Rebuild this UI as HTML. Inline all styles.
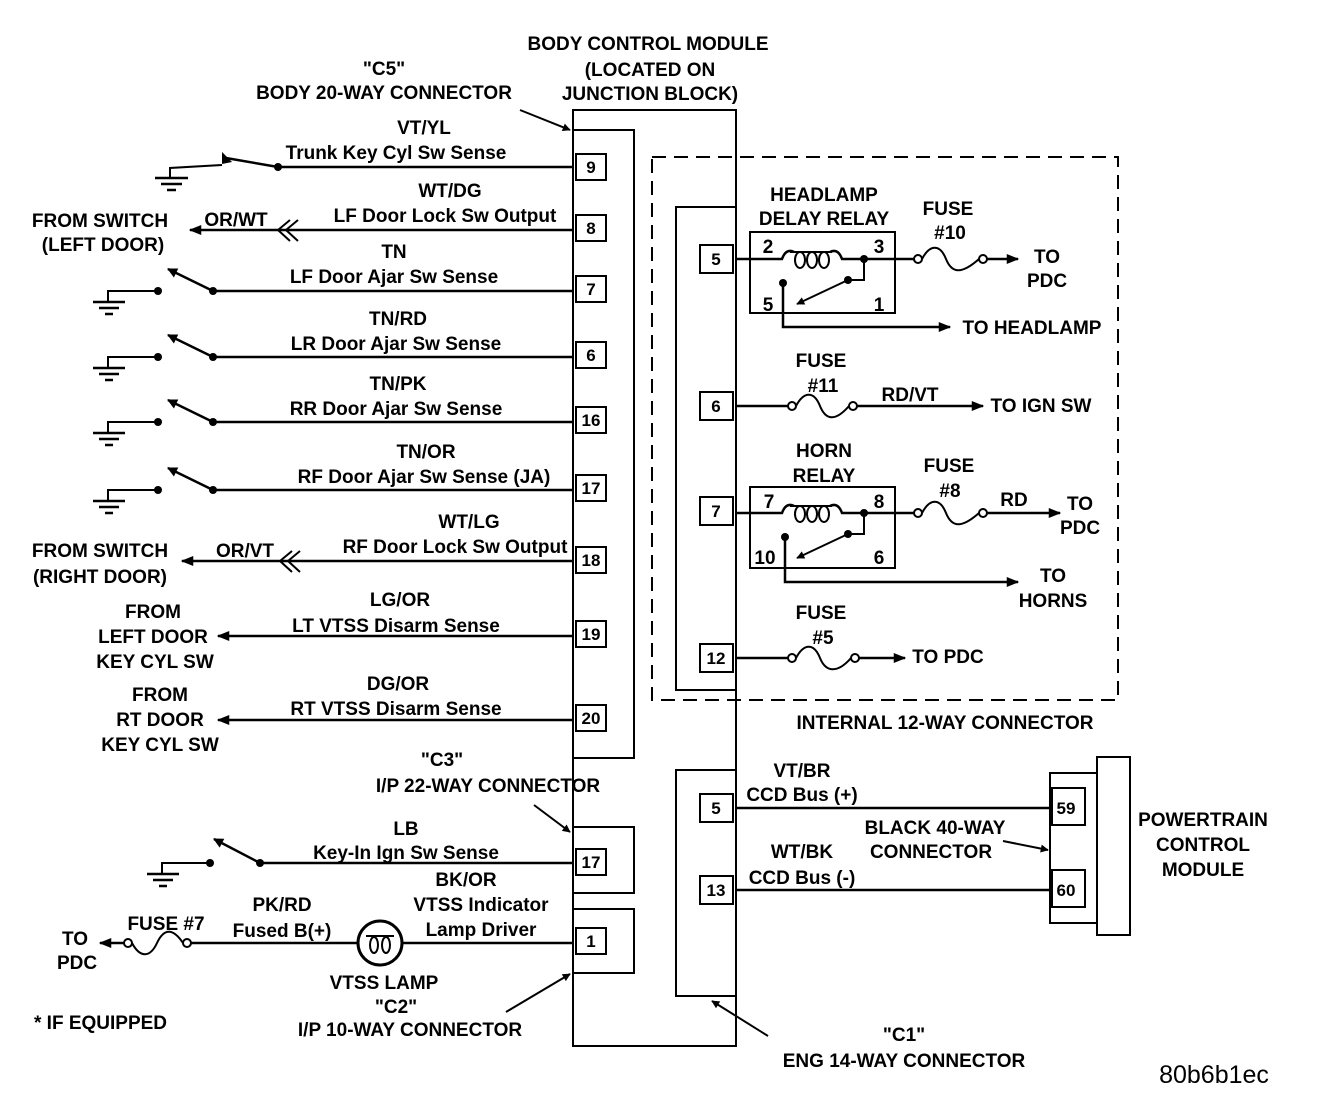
<!DOCTYPE html>
<html><head><meta charset="utf-8"><style>
html,body{margin:0;padding:0;background:#fff}
svg{display:block}
text{font-family:"Liberation Sans",sans-serif;font-size:19px;font-weight:bold;fill:#000}
.w{stroke:#000;stroke-width:2.5;fill:none}
.t{stroke:#000;stroke-width:2;fill:none}
.b{stroke:#000;stroke-width:2;fill:#fff}
</style></head><body>
<svg width="1328" height="1108" viewBox="0 0 1328 1108" xmlns="http://www.w3.org/2000/svg">
<defs>
<marker id="a" viewBox="0 0 10 10" refX="9" refY="5" markerWidth="7" markerHeight="5" orient="auto-start-reverse" markerUnits="strokeWidth"><path d="M0,1 L10,5 L0,9 z" fill="#000"/></marker>
<marker id="s" viewBox="0 0 10 10" refX="9" refY="5" markerWidth="5" markerHeight="4" orient="auto" markerUnits="strokeWidth"><path d="M0,0 L10,5 L0,10 z" fill="#000"/></marker>
</defs>

<rect x="573" y="110" width="163" height="936" class="t"/>
<rect x="573" y="130" width="61" height="628" class="t"/>
<rect x="573" y="827" width="61" height="66" class="t"/>
<rect x="573" y="909" width="61" height="64" class="t"/>

<g class="b">
<rect x="576" y="154" width="30" height="26"/>
<rect x="576" y="215" width="30" height="26"/>
<rect x="576" y="276" width="30" height="26"/>
<rect x="576" y="342" width="30" height="26"/>
<rect x="576" y="407" width="30" height="26"/>
<rect x="576" y="475" width="30" height="26"/>
<rect x="576" y="547" width="30" height="26"/>
<rect x="576" y="621" width="30" height="26"/>
<rect x="576" y="705" width="30" height="26"/>
<rect x="576" y="849" width="30" height="26"/>
<rect x="576" y="928" width="30" height="26"/>
</g>
<g text-anchor="middle">
<text x="591" y="173" style="font-size:17px">9</text><text x="591" y="234" style="font-size:17px">8</text><text x="591" y="295" style="font-size:17px">7</text>
<text x="591" y="361" style="font-size:17px">6</text><text x="591" y="426" style="font-size:17px">16</text><text x="591" y="494" style="font-size:17px">17</text>
<text x="591" y="566" style="font-size:17px">18</text><text x="591" y="640" style="font-size:17px">19</text><text x="591" y="724" style="font-size:17px">20</text>
<text x="591" y="868" style="font-size:17px">17</text><text x="591" y="947" style="font-size:17px">1</text>
</g>

<g text-anchor="middle">
<text x="648" y="50">BODY CONTROL MODULE</text>
<text x="650" y="76">(LOCATED ON</text>
<text x="650" y="100">JUNCTION BLOCK)</text>
<text x="384" y="75">"C5"</text>
<text x="384" y="99">BODY 20-WAY CONNECTOR</text>
</g>
<line x1="520" y1="110" x2="570" y2="130" class="t" marker-end="url(#s)"/>

<line x1="278" y1="167" x2="573" y2="167" class="w"/>
<text x="424" y="134" text-anchor="middle">VT/YL</text>
<text x="396" y="159" text-anchor="middle">Trunk Key Cyl Sw Sense</text>
<circle cx="278" cy="167" r="4"/>
<line x1="278" y1="167" x2="226" y2="158" class="w"/>
<path d="M222 152 L232 162 L222 164 z"/>
<polyline points="222,165 170,168 170,178" class="t"/>
<line x1="155" y1="178" x2="188" y2="178" class="w"/><line x1="161" y1="184" x2="182" y2="184" class="w"/><line x1="167" y1="190" x2="176" y2="190" class="w"/>

<line x1="190" y1="230" x2="573" y2="230" class="w" marker-start="url(#a)"/>
<polyline points="298,220 286,230 298,241" class="t"/><polyline points="290,220 278,230 290,241" class="t"/>
<text x="450" y="197" text-anchor="middle">WT/DG</text>
<text x="445" y="222" text-anchor="middle">LF Door Lock Sw Output</text>
<text x="236" y="226" text-anchor="middle">OR/WT</text>
<text x="100" y="227" text-anchor="middle">FROM SWITCH</text>
<text x="103" y="251" text-anchor="middle">(LEFT DOOR)</text>

<line x1="213" y1="291" x2="573" y2="291" class="w"/>
<text x="394" y="258" text-anchor="middle">TN</text>
<text x="394" y="283" text-anchor="middle">LF Door Ajar Sw Sense</text>
<circle cx="213" cy="291" r="4"/><line x1="213" y1="291" x2="168" y2="269" class="w" marker-end="url(#s)"/>
<circle cx="158" cy="291" r="4"/><polyline points="158,291 108,291 108,302" class="t"/>
<line x1="93" y1="302" x2="125" y2="302" class="w"/><line x1="99" y1="308" x2="119" y2="308" class="w"/><line x1="105" y1="314" x2="113" y2="314" class="w"/>

<line x1="213" y1="357" x2="573" y2="357" class="w"/>
<text x="398" y="325" text-anchor="middle">TN/RD</text>
<text x="396" y="350" text-anchor="middle">LR Door Ajar Sw Sense</text>
<circle cx="213" cy="357" r="4"/><line x1="213" y1="357" x2="168" y2="335" class="w" marker-end="url(#s)"/>
<circle cx="158" cy="357" r="4"/><polyline points="158,357 108,357 108,368" class="t"/>
<line x1="93" y1="368" x2="125" y2="368" class="w"/><line x1="99" y1="374" x2="119" y2="374" class="w"/><line x1="105" y1="380" x2="113" y2="380" class="w"/>

<line x1="213" y1="422" x2="573" y2="422" class="w"/>
<text x="398" y="390" text-anchor="middle">TN/PK</text>
<text x="396" y="415" text-anchor="middle">RR Door Ajar Sw Sense</text>
<circle cx="213" cy="422" r="4"/><line x1="213" y1="422" x2="168" y2="400" class="w" marker-end="url(#s)"/>
<circle cx="158" cy="422" r="4"/><polyline points="158,422 108,422 108,433" class="t"/>
<line x1="93" y1="433" x2="125" y2="433" class="w"/><line x1="99" y1="439" x2="119" y2="439" class="w"/><line x1="105" y1="445" x2="113" y2="445" class="w"/>

<line x1="213" y1="490" x2="573" y2="490" class="w"/>
<text x="426" y="458" text-anchor="middle">TN/OR</text>
<text x="424" y="483" text-anchor="middle">RF Door Ajar Sw Sense (JA)</text>
<circle cx="213" cy="490" r="4"/><line x1="213" y1="490" x2="168" y2="468" class="w" marker-end="url(#s)"/>
<circle cx="158" cy="490" r="4"/><polyline points="158,490 108,490 108,501" class="t"/>
<line x1="93" y1="501" x2="125" y2="501" class="w"/><line x1="99" y1="507" x2="119" y2="507" class="w"/><line x1="105" y1="513" x2="113" y2="513" class="w"/>

<line x1="182" y1="561" x2="573" y2="561" class="w" marker-start="url(#a)"/>
<polyline points="300,551 288,561 300,572" class="t"/><polyline points="292,551 280,561 292,572" class="t"/>
<text x="469" y="528" text-anchor="middle">WT/LG</text>
<text x="455" y="553" text-anchor="middle">RF Door Lock Sw Output</text>
<text x="245" y="557" text-anchor="middle">OR/VT</text>
<text x="100" y="557" text-anchor="middle">FROM SWITCH</text>
<text x="100" y="583" text-anchor="middle">(RIGHT DOOR)</text>

<line x1="218" y1="636" x2="573" y2="636" class="w" marker-start="url(#a)"/>
<text x="400" y="606" text-anchor="middle">LG/OR</text>
<text x="396" y="632" text-anchor="middle">LT VTSS Disarm Sense</text>
<text x="153" y="618" text-anchor="middle">FROM</text>
<text x="153" y="643" text-anchor="middle">LEFT DOOR</text>
<text x="155" y="668" text-anchor="middle">KEY CYL SW</text>

<line x1="218" y1="720" x2="573" y2="720" class="w" marker-start="url(#a)"/>
<text x="398" y="690" text-anchor="middle">DG/OR</text>
<text x="396" y="715" text-anchor="middle">RT VTSS Disarm Sense</text>
<text x="160" y="701" text-anchor="middle">FROM</text>
<text x="160" y="726" text-anchor="middle">RT DOOR</text>
<text x="160" y="751" text-anchor="middle">KEY CYL SW</text>

<text x="442" y="766" text-anchor="middle">"C3"</text>
<text x="488" y="792" text-anchor="middle">I/P 22-WAY CONNECTOR</text>
<line x1="534" y1="805" x2="570" y2="832" class="t" marker-end="url(#s)"/>
<line x1="260" y1="863" x2="573" y2="863" class="w"/>
<text x="406" y="835" text-anchor="middle">LB</text>
<text x="406" y="859" text-anchor="middle">Key-In Ign Sw Sense</text>
<circle cx="260" cy="863" r="4"/><line x1="260" y1="863" x2="214" y2="839" class="w" marker-end="url(#s)"/>
<circle cx="210" cy="863" r="4"/>
<polyline points="210,863 162,863 162,874" class="t"/>
<line x1="147" y1="874" x2="179" y2="874" class="w"/><line x1="153" y1="880" x2="173" y2="880" class="w"/><line x1="159" y1="886" x2="167" y2="886" class="w"/>

<line x1="191" y1="943" x2="573" y2="943" class="w"/>
<line x1="124" y1="943" x2="100" y2="943" class="w" marker-end="url(#a)"/>
<circle cx="128" cy="943" r="4" class="b"/><circle cx="187" cy="943" r="4" class="b"/>
<path d="M132 943 C140 958,150 958,157 943 S173 928,183 943" class="t"/>
<circle cx="380" cy="943" r="22" fill="#fff" stroke="#000" stroke-width="3"/>
<ellipse cx="374" cy="945" rx="4" ry="8" class="t"/><ellipse cx="386" cy="945" rx="4" ry="8" class="t"/>
<line x1="366" y1="936" x2="394" y2="936" class="t"/>
<text x="75" y="945" text-anchor="middle">TO</text>
<text x="77" y="969" text-anchor="middle">PDC</text>
<text x="166" y="930" text-anchor="middle">FUSE #7</text>
<text x="282" y="911" text-anchor="middle">PK/RD</text>
<text x="282" y="937" text-anchor="middle">Fused B(+)</text>
<text x="466" y="886" text-anchor="middle">BK/OR</text>
<text x="481" y="911" text-anchor="middle">VTSS Indicator</text>
<text x="481" y="936" text-anchor="middle">Lamp Driver</text>
<text x="384" y="989" text-anchor="middle">VTSS LAMP</text>
<text x="396" y="1013" text-anchor="middle">"C2"</text>
<text x="410" y="1036" text-anchor="middle">I/P 10-WAY CONNECTOR</text>
<line x1="506" y1="1012" x2="570" y2="974" class="t" marker-end="url(#s)"/>
<text x="34" y="1029">* IF EQUIPPED</text>

<rect x="652" y="157" width="466" height="543" fill="none" stroke="#000" stroke-width="2" stroke-dasharray="14,8"/>
<rect x="676" y="207" width="60" height="483" class="t"/>
<g class="b">
<rect x="700" y="245" width="33" height="28"/>
<rect x="700" y="392" width="33" height="28"/>
<rect x="700" y="497" width="33" height="28"/>
<rect x="700" y="644" width="33" height="28"/>
</g>
<g text-anchor="middle">
<text x="716" y="265" style="font-size:17px">5</text><text x="716" y="412" style="font-size:17px">6</text><text x="716" y="517" style="font-size:17px">7</text><text x="716" y="664" style="font-size:17px">12</text>
</g>
<text x="945" y="729" text-anchor="middle">INTERNAL 12-WAY CONNECTOR</text>

<rect x="750" y="232" width="145" height="81" class="t"/>
<path d="M736 259 H782 Q786 248,794 252 M830 252 Q838 248,842 259 H915" class="w"/>
<ellipse cx="800" cy="260" rx="5" ry="8" class="t"/><ellipse cx="812" cy="260" rx="5" ry="8" class="t"/><ellipse cx="824" cy="260" rx="5" ry="8" class="t"/>
<line x1="790" y1="252" x2="832" y2="252" class="t"/>
<circle cx="864" cy="259" r="4"/>
<polyline points="864,259 864,280 848,280" class="t"/>
<circle cx="848" cy="280" r="4"/>
<line x1="848" y1="280" x2="797" y2="304" class="t" marker-end="url(#s)"/>
<circle cx="783" cy="283" r="4"/>
<polyline points="783,283 783,327 950,327" class="w" marker-end="url(#a)"/>
<text x="768" y="253" text-anchor="middle">2</text><text x="879" y="253" text-anchor="middle">3</text>
<text x="768" y="311" text-anchor="middle">5</text><text x="879" y="311" text-anchor="middle">1</text>
<circle cx="918" cy="259" r="4" class="b"/><circle cx="983" cy="259" r="4" class="b"/>
<path d="M922 259 C930 244,940 244,946 259 S962 274,979 259" class="t"/>
<line x1="987" y1="259" x2="1018" y2="259" class="w" marker-end="url(#a)"/>
<text x="824" y="201" text-anchor="middle">HEADLAMP</text>
<text x="824" y="225" text-anchor="middle">DELAY RELAY</text>
<text x="948" y="215" text-anchor="middle">FUSE</text>
<text x="950" y="239" text-anchor="middle">#10</text>
<text x="1047" y="263" text-anchor="middle">TO</text>
<text x="1047" y="287" text-anchor="middle">PDC</text>
<text x="1032" y="334" text-anchor="middle">TO HEADLAMP</text>

<line x1="736" y1="406" x2="788" y2="406" class="w"/>
<circle cx="792" cy="406" r="4" class="b"/><circle cx="853" cy="406" r="4" class="b"/>
<path d="M796 406 C804 391,814 391,820 406 S836 421,849 406" class="t"/>
<line x1="857" y1="406" x2="983" y2="406" class="w" marker-end="url(#a)"/>
<text x="821" y="367" text-anchor="middle">FUSE</text>
<text x="823" y="392" text-anchor="middle">#11</text>
<text x="910" y="401" text-anchor="middle">RD/VT</text>
<text x="1041" y="412" text-anchor="middle">TO IGN SW</text>

<rect x="750" y="487" width="145" height="81" class="t"/>
<path d="M736 513 H782 Q786 502,794 506 M830 506 Q838 502,842 513 H915" class="w"/>
<ellipse cx="800" cy="514" rx="5" ry="8" class="t"/><ellipse cx="812" cy="514" rx="5" ry="8" class="t"/><ellipse cx="824" cy="514" rx="5" ry="8" class="t"/>
<line x1="790" y1="506" x2="832" y2="506" class="t"/>
<circle cx="864" cy="513" r="4"/>
<polyline points="864,513 864,534 848,534" class="t"/>
<circle cx="848" cy="534" r="4"/>
<line x1="848" y1="534" x2="797" y2="558" class="t" marker-end="url(#s)"/>
<circle cx="785" cy="537" r="4"/>
<polyline points="785,537 785,582 1018,582" class="w" marker-end="url(#a)"/>
<text x="769" y="508" text-anchor="middle">7</text><text x="879" y="508" text-anchor="middle">8</text>
<text x="765" y="564" text-anchor="middle">10</text><text x="879" y="564" text-anchor="middle">6</text>
<circle cx="918" cy="513" r="4" class="b"/><circle cx="983" cy="513" r="4" class="b"/>
<path d="M922 513 C930 498,940 498,946 513 S962 528,979 513" class="t"/>
<line x1="987" y1="513" x2="1060" y2="513" class="w" marker-end="url(#a)"/>
<text x="824" y="457" text-anchor="middle">HORN</text>
<text x="824" y="482" text-anchor="middle">RELAY</text>
<text x="949" y="472" text-anchor="middle">FUSE</text>
<text x="950" y="497" text-anchor="middle">#8</text>
<text x="1014" y="506" text-anchor="middle">RD</text>
<text x="1080" y="510" text-anchor="middle">TO</text>
<text x="1080" y="534" text-anchor="middle">PDC</text>
<text x="1053" y="582" text-anchor="middle">TO</text>
<text x="1053" y="607" text-anchor="middle">HORNS</text>

<line x1="736" y1="658" x2="788" y2="658" class="w"/>
<circle cx="792" cy="658" r="4" class="b"/><circle cx="855" cy="658" r="4" class="b"/>
<path d="M796 658 C804 643,814 643,820 658 S838 673,851 658" class="t"/>
<line x1="859" y1="658" x2="905" y2="658" class="w" marker-end="url(#a)"/>
<text x="821" y="619" text-anchor="middle">FUSE</text>
<text x="823" y="644" text-anchor="middle">#5</text>
<text x="948" y="663" text-anchor="middle">TO PDC</text>

<rect x="676" y="770" width="60" height="226" class="t"/>
<rect x="700" y="794" width="33" height="28" class="b"/>
<rect x="700" y="876" width="33" height="28" class="b"/>
<text x="716" y="814" text-anchor="middle" style="font-size:17px">5</text>
<text x="716" y="896" text-anchor="middle" style="font-size:17px">13</text>
<line x1="736" y1="808" x2="1052" y2="808" class="w"/>
<line x1="736" y1="890" x2="1052" y2="890" class="w"/>
<text x="802" y="777" text-anchor="middle">VT/BR</text>
<text x="802" y="801" text-anchor="middle">CCD Bus (+)</text>
<text x="935" y="834" text-anchor="middle">BLACK 40-WAY</text>
<text x="931" y="858" text-anchor="middle">CONNECTOR</text>
<text x="802" y="858" text-anchor="middle">WT/BK</text>
<text x="802" y="884" text-anchor="middle">CCD Bus (-)</text>
<line x1="1003" y1="841" x2="1048" y2="850" class="t" marker-end="url(#s)"/>
<text x="904" y="1067" text-anchor="middle">ENG 14-WAY CONNECTOR</text>
<text x="904" y="1041" text-anchor="middle">"C1"</text>
<line x1="768" y1="1036" x2="712" y2="1001" class="t" marker-end="url(#s)"/>

<rect x="1050" y="773" width="47" height="150" class="t"/>
<rect x="1052" y="788" width="33" height="37" class="b"/>
<rect x="1052" y="870" width="33" height="37" class="b"/>
<text x="1066" y="814" text-anchor="middle" style="font-size:17px">59</text>
<text x="1066" y="896" text-anchor="middle" style="font-size:17px">60</text>
<rect x="1097" y="757" width="33" height="178" class="b" stroke-width="2.5"/>
<text x="1203" y="826" text-anchor="middle">POWERTRAIN</text>
<text x="1203" y="851" text-anchor="middle">CONTROL</text>
<text x="1203" y="876" text-anchor="middle">MODULE</text>

<text x="1214" y="1083" text-anchor="middle" style="font-size:25px;font-weight:normal">80b6b1ec</text>
</svg>
</body></html>
